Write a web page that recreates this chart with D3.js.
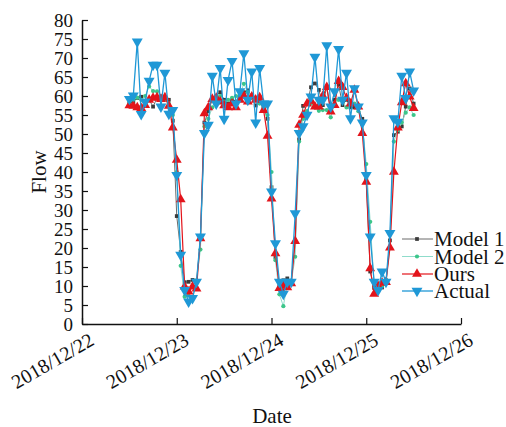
<!DOCTYPE html>
<html><head><meta charset="utf-8">
<script src="https://cdn.jsdelivr.net/npm/d3@7"></script>
<style>body{margin:0;background:#fff}svg{display:block}</style>
</head><body>
<svg id="c" width="506" height="427"></svg>
<script>
const startHour = 12; // 2018/12/22 12:00, hourly samples
const actual = [59.2,60.1,74.3,55.2,58.5,64,68.2,68.2,57.2,66.1,55.3,56.3,39.2,18.2,8.9,5.9,6.8,11.1,23,50.2,52.4,65.3,58,67.3,54,64.2,69.2,58,61.2,71.2,59,66.4,53,67.3,58,58,34.8,21.2,11.1,7.9,11.1,11.1,29.1,50.2,52,55,59.8,70.3,59,59,73.3,57.2,61.2,72.3,59,66.1,54.1,62,57.2,53,39.2,23,11.1,8.9,13.8,11.1,23.9,54.1,53.2,65.3,59.4,66.4,61.4];
const ours = [57.5,57.4,57,56.8,57.6,59,59.5,59.6,59.2,59.6,57.4,51.7,43.2,32.8,9.8,8.5,9.8,9.3,22.5,55.4,57,59.2,59.5,58.5,57.5,57,58,57,59,60,58.5,59.8,59,59.6,56.3,49.5,33,18.6,9.4,10,9.6,10.7,21.8,52.4,55,58,58.7,57.2,57.2,60,62.3,55.9,57.6,63.9,62.3,59.4,58,61.6,57.2,50.2,37.4,14.6,7.9,10,10.8,11,20.1,40,51.7,58.3,63.3,59.8,56.8];
const model1 = [58,58.5,59.5,59.8,58,59,57.2,59.5,59,59.5,59,53.5,28.4,19,11,11.1,11.6,11,22.7,53,56,59,60,61,59,58,59,58.5,60,61,61.5,60,57.5,59,57,54,36,17.5,10,11.5,12,11,22,48.6,57.4,58,62.3,63.3,61.6,57.6,62.5,56,59,63,57.6,59,57,57,57,54,38,13.8,9.5,10,9.6,11,22,49.7,50.6,52,57.2,62,58];
const model2 = [58.5,59,59.6,59,60,62.5,61.3,61.2,60,59,58,55,40,15.3,7.2,7.5,7,11.5,19.6,52,54,57,59,60,58.5,59,59.5,60,60.5,63.2,61,59.6,59,58,57,55,40,16.8,7.8,4.7,10.5,11,17.7,48,54,56,58,57,56.1,56.3,56.3,54.4,58,59,58.5,57,58,58,56,52.5,42.1,26.9,10.3,10,10,11.7,20,48,51,53,55.6,57,55];
const seriesNames = ["Model 1","Model 2","Ours","Actual"];
const yTicks = d3.range(0, 81, 5);
const xTickDates = ["2018/12/22","2018/12/23","2018/12/24","2018/12/25","2018/12/26"];

const svg = d3.select("#c");
const font = "'Liberation Serif','Times New Roman',serif";
const parse = d3.utcParse("%Y/%m/%d");
const fmt = d3.utcFormat("%Y/%m/%d");
const x = d3.scaleUtc().domain([parse(xTickDates[0]), parse(xTickDates[4])]).range([82, 461]);
const y = d3.scaleLinear().domain([0, 80]).range([324, 20]);
const t0 = parse(xTickDates[0]).getTime();
const times = actual.map((_, i) => new Date(t0 + (startHour + i) * 3600e3));

const styles = [
  {data: model1, line: "#6b6b6b", fill: "#3a3a3a", shape: d3.symbolSquare, size: 14, w: 1},
  {data: model2, line: "#8fdccb", fill: "#3cc68a", shape: d3.symbolCircle, size: 14, w: 1},
  {data: ours, line: "#e3141b", fill: "#e3141b", shape: d3.symbolTriangle, size: 42, w: 1.2, rot: 0},
  {data: actual, line: "#1f98d6", fill: "#1f98d6", shape: d3.symbolTriangle, size: 52, w: 1.3, rot: 180}
];

const line = d3.line().x((d, i) => x(times[i])).y(d => y(d));
styles.forEach(s => {
  svg.append("path").attr("d", line(s.data)).attr("fill", "none")
    .attr("stroke", s.line).attr("stroke-width", s.w);
  svg.append("g").selectAll("path").data(s.data).join("path")
    .attr("d", d3.symbol(s.shape, s.size))
    .attr("fill", s.fill)
    .attr("transform", (d, i) => `translate(${x(times[i])},${y(d)})` + (s.rot ? ` rotate(${s.rot})` : ""));
});

// axes
const yAxis = svg.append("g").attr("transform", "translate(82,0)")
  .call(d3.axisLeft(y).tickValues(yTicks).tickSize(-6).tickPadding(9).tickSizeOuter(0));
yAxis.selectAll("text").attr("font-family", font).attr("font-size", 19).attr("fill", "#111");
const xAxis = svg.append("g").attr("transform", "translate(0,324)")
  .call(d3.axisBottom(x).tickValues(xTickDates.map(parse)).tickFormat(fmt).tickSize(-6).tickSizeOuter(0));
xAxis.selectAll("text").attr("font-family", font).attr("font-size", 20).attr("fill", "#111")
  .attr("text-anchor", "end").attr("dy", null).attr("y", null)
  .attr("transform", "translate(13,20) rotate(-30)");
svg.selectAll(".domain").attr("stroke", "#111").attr("stroke-width", 1.5);
svg.selectAll(".tick line").attr("stroke", "#111").attr("stroke-width", 1.2);

svg.append("text").attr("transform", "translate(46,172) rotate(-90)")
  .attr("text-anchor", "middle").attr("font-family", font).attr("font-size", 21).attr("fill", "#111").text("Flow");
svg.append("text").attr("x", 272).attr("y", 423)
  .attr("text-anchor", "middle").attr("font-family", font).attr("font-size", 21).attr("fill", "#111").text("Date");

// legend
const legY = [239, 256.5, 274, 291];
styles.forEach((s, i) => {
  const g = svg.append("g").attr("transform", `translate(0,${legY[i]})`);
  g.append("line").attr("x1", 402).attr("x2", 433).attr("stroke", s.line).attr("stroke-width", s.w);
  g.append("path").attr("d", d3.symbol(s.shape, s.size)).attr("fill", s.fill)
    .attr("transform", `translate(417,0)` + (s.rot ? ` rotate(${s.rot})` : ""));
  g.append("text").attr("x", 434).attr("dy", "0.35em").attr("font-family", font)
    .attr("font-size", 21).attr("fill", "#111").text(seriesNames[i]);
});
</script>
</body></html>
